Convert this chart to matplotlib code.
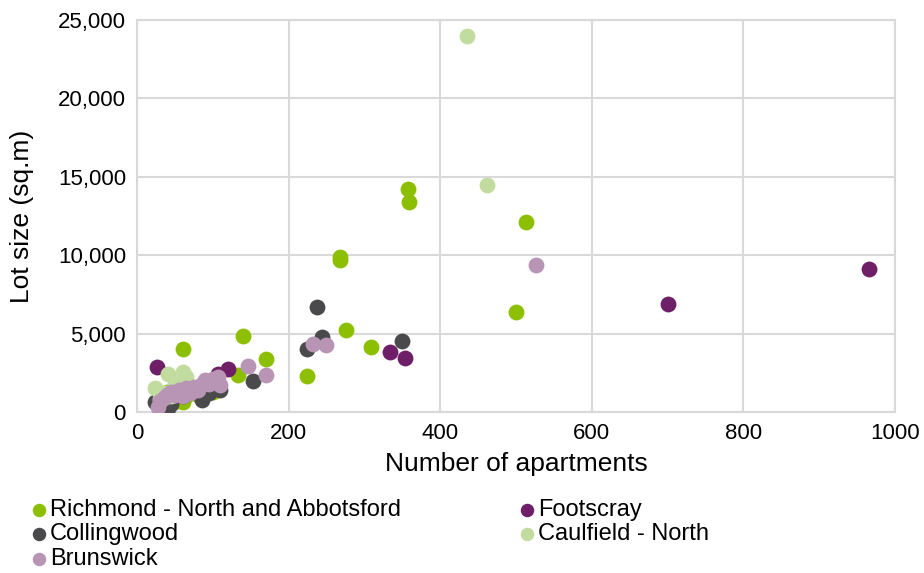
import matplotlib.pyplot as plt
from matplotlib.ticker import FuncFormatter

plt.rcParams['font.family'] = ['Liberation Sans', 'DejaVu Sans']

# Richmond - North and Abbotsford
rich_x = [358, 359, 513, 268, 268, 500, 276, 309, 140, 61, 170, 133, 224,
          61, 92, 75, 105, 45, 50, 55, 30, 40, 80, 100, 65]
rich_y = [14200, 13400, 12100, 9900, 9700, 6400, 5200, 4150, 4850, 4000, 3400, 2350, 2300,
          640, 1200, 1300, 1900, 1000, 1600, 700, 900, 1300, 1100, 1250, 1000]

# Footscray
foot_x = [966, 700, 334, 353, 26, 120, 107, 72, 57, 88]
foot_y = [9100, 6900, 3800, 3450, 2900, 2740, 2420, 1500, 1200, 1800]

# Collingwood
coll_x = [237, 244, 224, 350, 153, 41, 24, 86, 110, 100, 60, 45, 95, 35]
coll_y = [6700, 4780, 4020, 4530, 1980, 250, 650, 770, 1400, 1800, 1000, 500, 1200, 400]

# Caulfield - North
caul_x = [435, 462, 61, 41, 24, 35, 50, 30, 65, 45]
caul_y = [24000, 14500, 2550, 2400, 1500, 1200, 1800, 800, 2200, 1000]

# Brunswick
brun_x = [526, 232, 249, 147, 170, 107, 90, 95, 85, 75, 65, 55, 45, 40, 35, 30, 28,
          60, 70, 80, 50, 110, 100]
brun_y = [9400, 4340, 4270, 2930, 2360, 2230, 2040, 1800, 1700, 1600, 1500, 1400, 1300,
          1100, 900, 700, 300, 1000, 1200, 1400, 1100, 1700, 2100]

series = [
    ('Richmond - North and Abbotsford', rich_x, rich_y, '#8cbf00'),
    ('Footscray', foot_x, foot_y, '#6e1f68'),
    ('Collingwood', coll_x, coll_y, '#4a4a4c'),
    ('Caulfield - North', caul_x, caul_y, '#c2dca0'),
    ('Brunswick', brun_x, brun_y, '#b995b5'),
]

fig = plt.figure(figsize=(9.24, 5.73), dpi=100)
ax = fig.add_axes([0.1483, 0.281, 0.8203, 0.684])

handles = {}
for name, xs, ys, col in series:
    handles[name] = ax.scatter(xs, ys, s=130, color=col, label=name, zorder=3, linewidths=0)

ax.set_xlim(0, 1000)
ax.set_ylim(0, 25000)
ax.set_xticks(range(0, 1001, 200))
ax.set_yticks(range(0, 25001, 5000))
ax.yaxis.set_major_formatter(FuncFormatter(lambda v, p: f'{int(v):,}'))
ax.grid(True, color='#d9d9d9', linewidth=1.5, zorder=0)
for s in ax.spines.values():
    s.set_color('#d9d9d9')
    s.set_linewidth(1.5)
ax.tick_params(length=0, labelsize=16, pad=8)
ax.set_xlabel('Number of apartments', fontsize=19, labelpad=6)
ax.set_ylabel('Lot size (sq.m)', fontsize=19, labelpad=17)

# legend filled row by row like the original (matplotlib fills by column)
order = ['Richmond - North and Abbotsford', 'Collingwood', 'Brunswick',
         'Footscray', 'Caulfield - North']
fig.legend([handles[n] for n in order], order, loc='upper left',
           bbox_to_anchor=(0.031, 0.129), ncol=2,
           frameon=False, fontsize=17, handletextpad=0.0, columnspacing=4.9,
           labelspacing=0.1, markerscale=0.85, handlelength=0.9,
           borderaxespad=0, borderpad=0)

fig.savefig('out.png', dpi=100)
